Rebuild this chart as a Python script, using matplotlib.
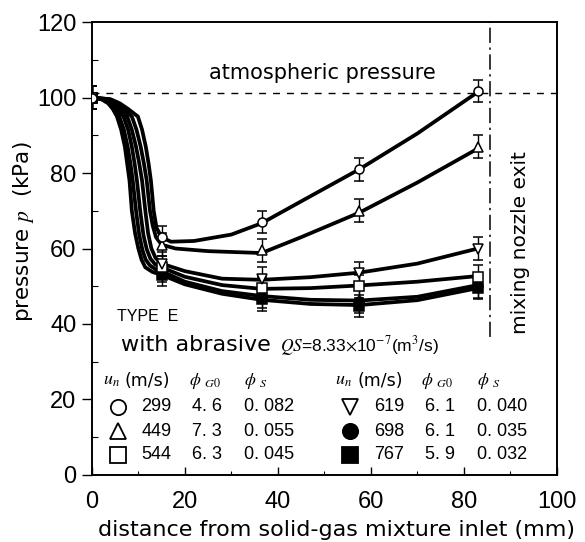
import matplotlib
matplotlib.use("Agg")
import matplotlib.pyplot as plt

plt.rcParams["font.family"] = ["Liberation Sans", "DejaVu Sans"]
plt.rcParams["mathtext.fontset"] = "stix"
WIDE = ["DejaVu Sans"]

# measured points (distance mm, pressure kPa)
x_meas = [0, 15, 36.5, 57.5, 83]
p_meas = {
    "299": [100, 63, 67, 81, 101.8],
    "449": [100, 61, 59.5, 70, 87],
    "619": [100, 56, 52, 53.5, 60],
    "544": [100, 55, 49.5, 50, 52.5],
    "698": [100, 54, 47.2, 46, 50],
    "767": [100, 53, 46.5, 44.8, 49.5],
}
p_err = 3.0

# curve traces
curve_x = {
    "767": [0, 2, 3.5, 4.5, 5.4, 6.3, 7.1, 7.6, 8.1, 8.6, 9.3, 10, 10.7, 11.5, 13, 15,
            20, 28, 36.5, 47, 57.5, 70, 83],
    "698": [0, 2.4, 3.9, 5.0, 5.9, 6.9, 7.7, 8.3, 8.8, 9.5, 10.2, 10.9, 11.6, 12.5, 13.7, 15,
            20, 28, 36.5, 47, 57.5, 70, 83],
    "544": [0, 2.8, 4.3, 5.5, 6.8, 7.8, 8.6, 9.2, 9.7, 10.4, 11.1, 11.8, 12.6, 13.6, 15,
            20, 28, 36.5, 47, 57.5, 70, 83],
    "619": [0, 3.2, 4.8, 6.2, 7.6, 8.6, 9.5, 10.2, 10.8, 11.5, 12.1, 12.8, 13.7, 15,
            20, 28, 36.5, 47, 57.5, 70, 83],
    "449": [0, 3.6, 5.5, 7.0, 8.6, 9.6, 10.5, 11.2, 11.8, 12.5, 13.1, 13.8, 15,
            18, 25, 36.5, 45, 57.5, 70, 83],
    "299": [0, 4, 6, 7.8, 9.9, 10.8, 11.6, 12.2, 12.7, 13.3, 13.9, 15,
            17, 22, 30, 36.5, 45, 57.5, 70, 83],
}
curve_p = {
    "767": [100, 99.6, 98.5, 97, 95, 91.5, 87, 82.5, 78, 70, 64, 60, 57, 55, 53.8, 53,
            50.5, 48, 46.4, 45.3, 45, 46.3, 49.5],
    "698": [100, 99.6, 98.5, 97, 95, 91.5, 87, 82.5, 78, 70, 63.5, 59.5, 57, 55.5, 54.5, 54,
            51.2, 48.7, 47.4, 46.4, 46.2, 47.2, 50.3],
    "544": [100, 99.6, 98.5, 97, 95, 91.5, 87, 82.5, 78, 70, 63.5, 59.8, 57.3, 55.8, 55,
            52.5, 50.3, 49.3, 49.5, 50.2, 51.2, 52.7],
    "619": [100, 99.6, 98.5, 97, 95, 91.5, 87, 82.5, 78, 70, 64, 60, 57.5, 56,
            54, 52, 51.7, 52.4, 53.6, 56, 60],
    "449": [100, 99.6, 98.5, 97, 95, 91.5, 87, 82.5, 78, 70, 66, 63, 61,
            60, 59.3, 58.8, 63, 69.5, 77.5, 86.5],
    "299": [100, 99.6, 98.5, 97, 95, 91.5, 87, 82.5, 78, 70, 65.5, 63,
            61.8, 62, 63.7, 66.7, 72.5, 81, 90.5, 101.5],
}

markers = {"299": ("o", "white"), "449": ("^", "white"), "544": ("s", "white"),
           "619": ("v", "white"), "698": ("o", "black"), "767": ("s", "black")}

table_left = [("299", "4. 6", "0. 082"), ("449", "7. 3", "0. 055"), ("544", "6. 3", "0. 045")]
table_right = [("619", "6. 1", "0. 040"), ("698", "6. 1", "0. 035"), ("767", "5. 9", "0. 032")]
p_atm = 101.3
x_exit = 85.6

fig = plt.figure(figsize=(5.85, 5.42), dpi=100)
ax = fig.add_axes([0.157, 0.124, 0.795, 0.835])

order = ["767", "698", "544", "619", "449", "299"]
for key in order:
    ax.plot(curve_x[key], curve_p[key], color="black", lw=2.7, solid_capstyle="round",
            solid_joinstyle="round", zorder=2)
for key in order:
    m, fc = markers[key]
    ax.errorbar(x_meas, p_meas[key], yerr=p_err, fmt=m, mfc=fc, mec="black", ms=6.5,
                mew=1.1, ecolor="black", elinewidth=1.0, capsize=3.6, capthick=1.0, zorder=3)

ax.axhline(p_atm, color="black", lw=1.0, ls=(0, (5, 5)), zorder=1)
ax.plot([x_exit, x_exit], [36.5, 120], color="black", lw=1.1, ls=(0, (10, 3, 1.5, 3)))

ax.text(49.5, 106.5, "atmospheric pressure", ha="center", va="center", fontsize=15, family=WIDE)
ax.text(92.2, 61.5, "mixing nozzle exit", rotation=90, ha="center", va="center", fontsize=14.5,
        family=WIDE)
ax.text(5.5, 42, "TYPE  E", ha="left", va="center", fontsize=11.5)
ax.text(6.3, 34.4, "with abrasive", ha="left", va="center", fontsize=16, family=WIDE)
ax.text(40.5, 34.2, r"$QS$=8.33$\times$10$^{-7}$(m$^3$/s)", ha="left", va="center", fontsize=12.5)

# data table
for x0, rows in [(2.3, table_left), (52.3, table_right)]:
    ax.text(x0, 25, r"$u_n$", ha="left", va="center", fontsize=13)
    ax.text(x0 + 4.8, 25, "(m/s)", ha="left", va="center", fontsize=12.5, family=WIDE)
    ax.text(x0 + 18.5, 25, r"$\phi\ _{G0}$", ha="left", va="center", fontsize=12.5)
    ax.text(x0 + 30.5, 25, r"$\phi\ _{S}$", ha="left", va="center", fontsize=12.5)
    for i, (u, g, s) in enumerate(rows):
        yy = [18, 11.6, 5.3][i]
        m, fc = markers[u]
        ax.plot([x0 + 3.3], [yy], marker=m, mfc=fc, mec="black", ms=11, mew=1.3, ls="none")
        ax.text(x0 + 8.3, yy, u, ha="left", va="center", fontsize=13)
        ax.text(x0 + 19.3, yy, g, ha="left", va="center", fontsize=13)
        ax.text(x0 + 30.5, yy, s, ha="left", va="center", fontsize=13)

ax.set_xlim(0, 100)
ax.set_ylim(0, 120)
ax.set_xticks([0, 20, 40, 60, 80, 100])
ax.set_yticks([0, 20, 40, 60, 80, 100, 120])
ax.set_xticks(range(10, 100, 20), minor=True)
ax.set_yticks(range(10, 120, 20), minor=True)
ax.tick_params(axis="x", which="major", direction="in", length=6, width=1.0, labelsize=17, pad=12)
ax.tick_params(axis="x", which="minor", direction="in", length=3, width=0.8)
ax.tick_params(axis="y", which="major", direction="out", length=7, width=1.0, labelsize=17, pad=4)
ax.tick_params(axis="y", which="minor", direction="in", length=4, width=0.8)
for sp in ax.spines.values():
    sp.set_linewidth(1.4)

ax.set_xlabel("distance from solid-gas mixture inlet (mm)", fontsize=16, family=WIDE)
ax.xaxis.set_label_coords(0.525, -0.1)
ax.set_ylabel(r"pressure $p$  (kPa)", fontsize=15.5, family=WIDE)
ax.yaxis.set_label_coords(-0.12, 0.538)

fig.savefig("out.png", dpi=100)
